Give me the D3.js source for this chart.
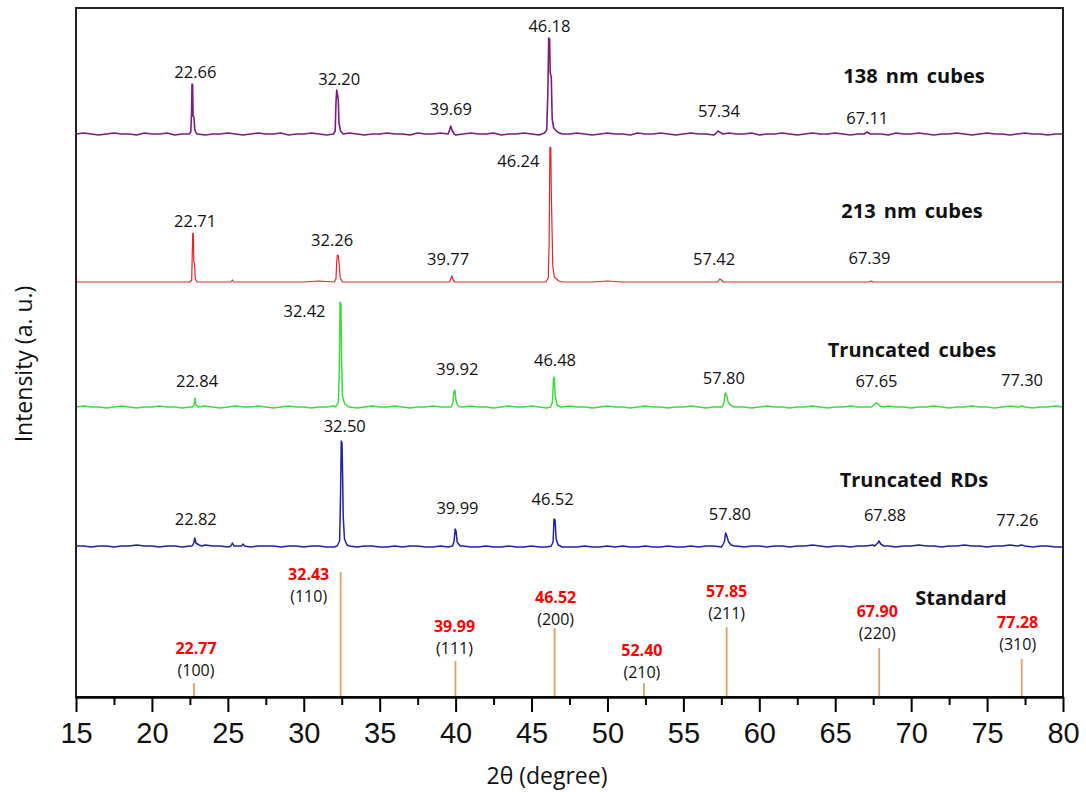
<!DOCTYPE html>
<meta charset="UTF-8">
<style>
  body { margin: 0; background: #fff; }
  text { font-family: "Open Sans", sans-serif; }
  .tick text { font-family: "Liberation Sans", Arial, sans-serif; }
</style>
<svg width="1086" height="800"></svg>
<script src="https://d3js.org/d3.v7.min.js"></script>
<script>

// ---- data ----
var xTicks = [15, 20, 25, 30, 35, 40, 45, 50, 55, 60, 65, 70, 75, 80];
var xMinorTicks = [17.5, 22.5, 27.5, 32.5, 37.5, 42.5, 47.5, 52.5, 57.5, 62.5, 67.5, 72.5, 77.5];

var seriesNames = ["138 nm cubes", "213 nm cubes", "Truncated cubes", "Truncated RDs", "Standard"];
var seriesColors = ["#7d1c7d", "#e3262b", "#3ddc3d", "#1f22a8", "#e0a262"];
var seriesOffsets = [562, 415, 289, 150, 0];   // stacking offset, a.u.

// labelled peak positions
var purplePeaks = [22.66, 32.20, 39.69, 46.18, 57.34, 67.11];
var redPeaks = [22.71, 32.26, 39.77, 46.24, 57.42, 67.39];
var greenPeaks = [22.84, 32.42, 39.92, 46.48, 57.80, 67.65, 77.30];
var bluePeaks = [22.82, 32.50, 39.99, 46.52, 57.80, 67.88, 77.26];
var purpleHeights = [51, 45, 9, 97, 3, 2];
var redHeights = [49, 27, 6, 135, 3, 1];
var greenHeights = [10, 106, 18, 31, 15, 5, 2];
var blueHeights = [9, 106, 18, 28, 14, 6, 2];

// standard reference pattern
var stdPeaks = [22.77, 32.43, 39.99, 46.52, 52.40, 57.85, 67.90, 77.28];
var stdHeights = [14, 125, 36, 69, 14, 70, 49, 38];
var stdHkl = ["(100)", "(110)", "(111)", "(200)", "(210)", "(211)", "(220)", "(310)"];

// background readings, 15..80 deg evenly spaced
var purpleBase = [1,2,1,0,1,2,1,1,0,2, 1,1,2,0,1,2,1,0,1,1, 2,1,0,1,2,1,1,2,0,1,
  1,2,1,0,1,2,2,1,0,1, 1,2,1,1,0,2,1,1,2,1, 0,1,2,1,1,2,0,1,1,2,
  1,0,1,2,1,1,2,1,0,1, 2,1,1,0,2,1,1,2,1,0, 1,2,1,1,0,1,2,1,1,2,
  0,1,1,2,1,0,1,2,1,1, 2,1,0,1,2,1,1,0,2,1, 1,2,1,0,1,1,2,1,0,1,
  2,1,1,0,1,2,1,1,0,1, 1];
var redBase = [0,0,0,0,0,0,0,0,0,0, 0,0,0,0,0,0,1,0,0,0, 0,0,0,0,0,0,0,0,0,0,
  0,0,0,0,0,1,0,0,0,0, 0,0,0,0,0,0,0,0,0,0, 0,0,0,0,0,0,0,0,0,0,
  0,0,0,0,0,0];
var greenBase = [1,2,1,1,0,1,2,1,0,1, 1,2,1,1,0,1,1,2,1,0, 1,2,1,1,2,1,0,1,2,1,
  1,0,1,1,2,1,1,0,1,2, 1,1,2,1,0,1,1,2,1,1, 0,1,2,1,1,0,1,2,1,1,
  2,1,0,1,1,2,1,1,0,1, 2,1,1,0,1,2,1,1,0,1, 1,2,1,0,1,1,2,1,1,0,
  1,2,1,1,0,1,1,2,1,0, 1,1,2,1,1,0,1,2,1,1, 0,1,1,2,1,0,1,1,2,1,
  1,0,1,2,1,1,0,1,1,2, 1];
var blueBase = [1,1,0,1,1,0,1,1,2,1, 1,0,1,1,0,1,1,2,1,1, 0,1,1,0,1,1,1,0,1,1,
  0,1,1,0,0,1,1,0,1,1, 0,0,1,0,1,1,0,0,1,0, 0,1,0,0,1,0,0,1,0,0,
  1,0,0,1,0,0,0,1,0,0, 1,0,1,0,0,1,0,0,1,0, 0,1,0,1,1,0,1,1,0,1,
  1,0,1,1,0,1,1,2,1,0, 1,1,0,1,1,2,1,1,0,1, 1,2,1,1,0,1,1,2,1,1,
  0,1,1,2,1,1,0,1,1,0, 0];

// peak profiles: [2theta, intensity above background]
var purpleProfiles = [
  [[22.45,1],[22.56,3],[22.61,22],[22.64,51],[22.68,50],[22.71,19],[22.77,18],[22.82,5],[22.95,1]],
  [[31.95,1],[32.07,4],[32.12,32],[32.17,45],[32.22,40],[32.27,36],[32.32,12],[32.42,4],[32.6,1]],
  [[39.5,1],[39.6,5],[39.68,9],[39.76,5],[39.9,1]],
  [[45.85,2],[46.0,5],[46.07,40],[46.13,97],[46.19,96],[46.23,62],[46.3,58],[46.36,16],[46.46,7],[46.7,3]],
  [[57.1,1],[57.28,4],[57.38,3],[57.6,1]],
  [[66.9,1],[67.1,3],[67.3,1]]
];
var redProfiles = [
  [[22.5,0],[22.62,2],[22.66,30],[22.69,49],[22.73,48],[22.76,20],[22.81,18],[22.86,3],[22.98,0]],
  [[25.2,0],[25.3,2],[25.4,0]],
  [[32.0,0],[32.12,3],[32.17,20],[32.21,27],[32.28,26],[32.33,18],[32.4,4],[32.55,0]],
  [[39.6,0],[39.7,4],[39.76,6],[39.84,2],[39.95,0]],
  [[45.95,0],[46.1,4],[46.16,40],[46.21,135],[46.27,134],[46.3,90],[46.34,60],[46.4,16],[46.5,5],[46.8,1]],
  [[57.25,0],[57.4,3],[57.5,2],[57.62,0]],
  [[67.2,0],[67.38,1],[67.5,0]]
];
var greenProfiles = [
  [[22.65,1],[22.78,3],[22.84,10],[22.9,3],[23.05,1]],
  [[32.1,1],[32.28,6],[32.34,40],[32.39,106],[32.45,104],[32.49,45],[32.55,12],[32.7,4],[32.95,1]],
  [[39.7,1],[39.82,5],[39.88,16],[39.95,18],[40.02,8],[40.12,3],[40.3,1]],
  [[46.25,1],[46.38,6],[46.44,28],[46.5,31],[46.56,12],[46.68,3],[46.9,1]],
  [[57.55,1],[57.68,6],[57.76,15],[57.84,13],[57.95,6],[58.1,3],[58.35,1]],
  [[67.4,1],[67.6,4],[67.75,5],[67.95,2],[68.2,1]],
  [[77.1,1],[77.3,2],[77.5,1]]
];
var blueProfiles = [
  [[22.65,1],[22.76,4],[22.82,9],[22.9,4],[23.1,2],[23.3,1]],
  [[25.2,1],[25.3,4],[25.4,1]],
  [[25.9,1],[26.0,3],[26.1,1]],
  [[32.2,1],[32.36,6],[32.42,50],[32.47,106],[32.52,104],[32.56,70],[32.6,30],[32.68,8],[32.85,2],[33.0,1]],
  [[39.8,1],[39.9,6],[39.97,18],[40.03,16],[40.1,5],[40.3,1]],
  [[46.3,1],[46.42,5],[46.48,28],[46.55,27],[46.62,8],[46.75,2],[46.9,1]],
  [[57.55,1],[57.7,5],[57.78,14],[57.86,11],[57.98,5],[58.15,2],[58.35,1]],
  [[67.6,1],[67.8,4],[67.88,6],[68.0,3],[68.2,1]],
  [[77.0,1],[77.26,2],[77.5,1]]
];

// ---- layout (label nudges in px from the peak apex) ----
var purpleNudge = [[3,-13],[2,-12],[0,-18],[0,-13],[0,-22],[0,-16]];
var redNudge = [[2,-13],[-6,-16],[-4,-18],[-32,13],[-6,-21],[-2,-24]];
var greenNudge = [[2,-18],[-36,8],[3,-22],[1,-18],[-2,-16],[1,-23],[0,-27]];
var blueNudge = [[1,-20],[3,-16],[2,-22],[-2,-21],[4,-20],[6,-27],[-4,-26]];
var stdNudge = [[2,-35],[-32,2],[-1,-35],[1,-31],[-2,-33],[0,-36],[-2,-37],[-4,-37]];
var nameAt = [[914,75],[912,210],[912,349],[914,479],[961,597]];

var svg = d3.select("svg"),
    margin = {top: 8, right: 23, bottom: 103, left: 76},
    width = +svg.attr("width") - margin.left - margin.right,
    height = +svg.attr("height") - margin.top - margin.bottom,
    g = svg.append("g").attr("transform", "translate(" + margin.left + "," + margin.top + ")");

var x = d3.scaleLinear().domain([15, 80]).range([0, width]);
var y = d3.scaleLinear().domain([0, 689]).range([height, 0]);

var line = d3.line()
    .x(function(d) { return x(d[0]); })
    .y(function(d) { return y(d[1]); });

function buildTrace(base, profiles, offset) {
  var step = 65 / (base.length - 1);
  var pts = [];
  base.forEach(function(v, i) {
    var t = 15 + i * step;
    var inside = profiles.some(function(p) { return t >= p[0][0] && t <= p[p.length - 1][0]; });
    if (!inside) pts.push([t, v]);
  });
  profiles.forEach(function(p) { p.forEach(function(d) { pts.push([d[0], d[1]]); }); });
  pts.sort(function(a, b) { return a[0] - b[0]; });
  return pts.map(function(d) { return [d[0], d[1] + offset]; });
}

var traces = [
  {base: purpleBase, prof: purpleProfiles, peaks: purplePeaks, h: purpleHeights, nudge: purpleNudge, w: 1.6},
  {base: redBase, prof: redProfiles, peaks: redPeaks, h: redHeights, nudge: redNudge, w: 1.2},
  {base: greenBase, prof: greenProfiles, peaks: greenPeaks, h: greenHeights, nudge: greenNudge, w: 1.5},
  {base: blueBase, prof: blueProfiles, peaks: bluePeaks, h: blueHeights, nudge: blueNudge, w: 1.5}
];

traces.forEach(function(s, k) {
  g.append("path")
      .datum(buildTrace(s.base, s.prof, seriesOffsets[k]))
      .attr("fill", "none")
      .attr("stroke", seriesColors[k])
      .attr("stroke-width", s.w)
      .attr("stroke-linejoin", "round")
      .attr("d", line);

  g.selectAll(null)
      .data(s.peaks)
      .enter().append("text")
      .attr("x", function(d, i) { return x(d) + s.nudge[i][0]; })
      .attr("y", function(d, i) { return y(seriesOffsets[k] + s.h[i]) + s.nudge[i][1]; })
      .attr("text-anchor", "middle")
      .attr("dominant-baseline", "central")
      .attr("font-size", 16.5)
      .attr("fill", "#111")
      .text(function(d) { return d.toFixed(2); });
});

// standard sticks
g.selectAll(".stick")
    .data(stdPeaks)
    .enter().append("line")
    .attr("class", "stick")
    .attr("x1", function(d) { return x(d); })
    .attr("x2", function(d) { return x(d); })
    .attr("y1", y(0))
    .attr("y2", function(d, i) { return y(stdHeights[i]); })
    .attr("stroke", seriesColors[4])
    .attr("stroke-width", 1.8);

g.selectAll(".stdval")
    .data(stdPeaks)
    .enter().append("text")
    .attr("class", "stdval")
    .attr("x", function(d, i) { return x(d) + stdNudge[i][0]; })
    .attr("y", function(d, i) { return y(stdHeights[i]) + stdNudge[i][1]; })
    .attr("text-anchor", "middle")
    .attr("dominant-baseline", "central")
    .attr("font-size", 16)
    .attr("font-weight", "bold")
    .attr("fill", "#ff0000")
    .text(function(d) { return d.toFixed(2); });

g.selectAll(".hkl")
    .data(stdHkl)
    .enter().append("text")
    .attr("class", "hkl")
    .attr("x", function(d, i) { return x(stdPeaks[i]) + stdNudge[i][0]; })
    .attr("y", function(d, i) { return y(stdHeights[i]) + stdNudge[i][1] + 22; })
    .attr("text-anchor", "middle")
    .attr("dominant-baseline", "central")
    .attr("font-size", 16)
    .attr("fill", "#111")
    .text(function(d) { return d; });

// series names
svg.selectAll(".sname")
    .data(seriesNames)
    .enter().append("text")
    .attr("class", "sname")
    .attr("x", function(d, i) { return nameAt[i][0]; })
    .attr("y", function(d, i) { return nameAt[i][1]; })
    .attr("text-anchor", "middle")
    .attr("dominant-baseline", "central")
    .attr("font-size", 20)
    .attr("font-weight", "bold")
    .attr("word-spacing", 3)
    .attr("fill", "#111")
    .text(function(d) { return d; });

// frame
g.append("rect")
    .attr("width", width)
    .attr("height", height)
    .attr("fill", "none")
    .attr("stroke", "#222")
    .attr("stroke-width", 2);

// axes
g.append("g")
    .attr("transform", "translate(0," + height + ")")
    .call(d3.axisBottom(x).tickValues(xMinorTicks).tickSize(8).tickFormat(""))
    .call(function(a) { a.select(".domain").remove(); })
    .selectAll("line").attr("stroke-width", 2);

var xAxis = g.append("g")
    .attr("transform", "translate(0," + height + ")")
    .call(d3.axisBottom(x).tickValues(xTicks).tickSize(15).tickSizeOuter(0).tickPadding(10).tickFormat(d3.format("d")));
xAxis.select(".domain").attr("stroke-width", 2.5);
xAxis.selectAll("line").attr("stroke-width", 2);
xAxis.selectAll("text").attr("font-size", 29).attr("fill", "#111");

svg.append("text")
    .attr("x", 547)
    .attr("y", 775)
    .attr("text-anchor", "middle")
    .attr("dominant-baseline", "central")
    .attr("font-size", 23)
    .attr("fill", "#111")
    .text("2θ (degree)");

svg.append("text")
    .attr("transform", "translate(23,364) rotate(-90)")
    .attr("text-anchor", "middle")
    .attr("dominant-baseline", "central")
    .attr("font-size", 23)
    .attr("fill", "#111")
    .text("Intensity (a. u.)");

</script>
